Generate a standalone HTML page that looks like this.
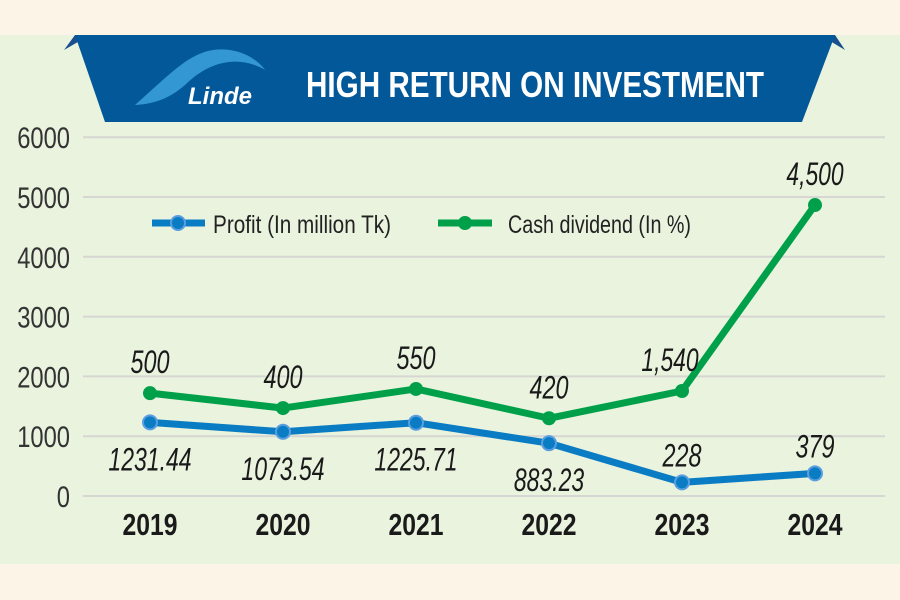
<!DOCTYPE html>
<html><head><meta charset="utf-8"><style>
html,body{margin:0;padding:0;background:#fdf4e8;}
svg{display:block;}
text{font-family:"Liberation Sans Narrow","Liberation Sans",sans-serif;}
</style></head><body>
<svg width="900" height="600" viewBox="0 0 900 600">
<rect x="0" y="0" width="900" height="600" fill="#fdf4e8"/>
<rect x="0" y="35" width="900" height="529" fill="#e9f3de"/>
<g id="grid"></g>
<g>
<polygon points="64,50 75,35 90,35" fill="#1a4f8f"/>
<polygon points="845,50 835,35 820,35" fill="#1a4f8f"/>
<polygon points="75,35 835,35 802,122 105,122" fill="#03589a"/>
<path d="M135,105 C175,70 195,45 230,50 C250,53 262,65 265,70 C240,55 210,60 185,85 C170,98 155,104 135,105 Z" fill="#3fa8e0" opacity="0.8"/>
<text x="188" y="104" fill="#ffffff" font-size="24" font-style="italic" font-weight="bold" font-family="Liberation Serif,serif">Linde</text>
<text x="306" y="97" fill="#ffffff" font-size="36" font-weight="bold" textLength="458" lengthAdjust="spacingAndGlyphs">HIGH RETURN ON INVESTMENT</text>
</g>
<g>
<line x1="152" y1="223" x2="205" y2="223" stroke="#0a7cc4" stroke-width="7"/>
<circle cx="178" cy="223" r="7" fill="#0a7cc4" stroke="#5a9ee0" stroke-width="2"/>
<text x="213" y="233" font-size="25" fill="#222" textLength="178" lengthAdjust="spacingAndGlyphs">Profit (In million Tk)</text>
<line x1="438" y1="223" x2="492" y2="223" stroke="#00a04a" stroke-width="7"/>
<circle cx="465" cy="223" r="7" fill="#00a04a"/>
<text x="508" y="233" font-size="25" fill="#222" textLength="183" lengthAdjust="spacingAndGlyphs">Cash dividend (In %)</text>
</g>
<g id="series"></g>
</svg>
<script>
const years=['2019','2020','2021','2022','2023','2024'];
const yTicks=[0,1000,2000,3000,4000,5000,6000];
const profit=[1231.44,1073.54,1225.71,883.23,228,379];
const profitLabels=['1231.44','1073.54','1225.71','883.23','228','379'];
const dividend=[500,400,550,420,1540,4500];
const dividendPlot=[1720,1470,1790,1300,1756,4866];
const dividendLabels=['500','400','550','420','1,540','4,500'];
const NS='http://www.w3.org/2000/svg';
const xs=i=>150+i*133;
const ys=v=>496-v*0.0598;
function tw(s,d){let w=0;for(const c of s)w+=(c==='.'||c===',')?d*0.4:d;return w;}
function mk(tag,attrs,parent,txt){const e=document.createElementNS(NS,tag);for(const k in attrs)e.setAttribute(k,attrs[k]);if(txt!==undefined)e.textContent=txt;parent.appendChild(e);return e;}
const grid=document.getElementById('grid');
yTicks.forEach(t=>{
 const l=mk('line',{x1:83,x2:885,y1:ys(t),y2:ys(t),stroke:'#d6d6d2','stroke-width':2},grid);
 
 
 const s=String(t);
 const tx=mk('text',{x:70,y:ys(t)+11,'text-anchor':'end','font-size':30,fill:'#333',textLength:tw(s,13.2),lengthAdjust:'spacingAndGlyphs'},grid,s);
 
 
});
years.forEach((y,i)=>{
 const tx=mk('text',{x:xs(i),y:535,'text-anchor':'middle','font-size':31,'font-weight':'bold',fill:'#1a1a1a',textLength:55,lengthAdjust:'spacingAndGlyphs'},grid,y);
 
 
});
const s=document.getElementById('series');
const gp=mk('polyline',{points:dividendPlot.map((v,i)=>xs(i)+','+ys(v)).join(' '),fill:'none',stroke:'#00a04a','stroke-width':7,'stroke-linejoin':'round'},s);


const bp=mk('polyline',{points:profit.map((v,i)=>xs(i)+','+ys(v)).join(' '),fill:'none',stroke:'#0a7cc4','stroke-width':7,'stroke-linejoin':'round'},s);


dividendPlot.forEach((v,i)=>{
 const c=mk('circle',{cx:xs(i),cy:ys(v),r:7,fill:'#00a04a'},s);
 
 
 const lab=dividendLabels[i];
 const t=mk('text',{x:xs(i)-(i===4?12:0),y:ys(v)-20,'text-anchor':'middle','font-size':32,'font-style':'italic',fill:'#1a1a1a',textLength:tw(lab,13),lengthAdjust:'spacingAndGlyphs'},s,lab);
 
 
});
profit.forEach((v,i)=>{
 const c=mk('circle',{cx:xs(i),cy:ys(v),r:7,fill:'#0a7cc4',stroke:'#5a9ee0','stroke-width':2},s);
 
 
 const above=i>=4;
 const lab=profitLabels[i];
 const t=mk('text',{x:xs(i),y:above?ys(v)-16:ys(v)+48,'text-anchor':'middle','font-size':32,'font-style':'italic',fill:'#1a1a1a',textLength:tw(lab,13),lengthAdjust:'spacingAndGlyphs'},s,lab);
 
 
});
</script>
</body></html>
